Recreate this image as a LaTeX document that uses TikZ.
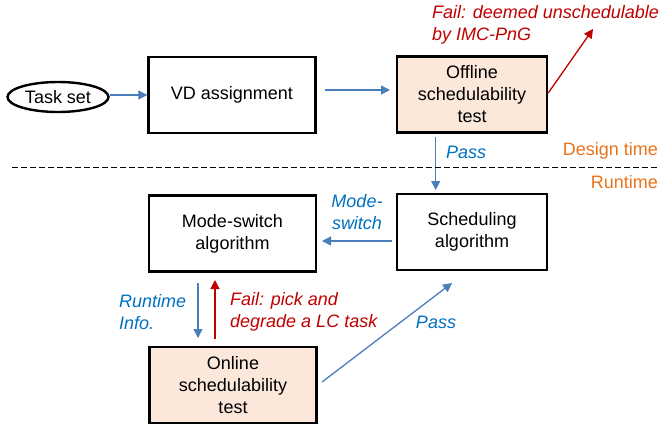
\documentclass[tikz,border=0pt]{standalone}
\usepackage{fontspec}
\setmainfont{Liberation Sans}
\usetikzlibrary{arrows.meta,shapes.geometric}
\definecolor{arrblue}{HTML}{4A7EBB}
\definecolor{txtblue}{HTML}{0070C0}
\definecolor{failred}{HTML}{C00000}
\definecolor{orng}{HTML}{E8731A}
\definecolor{peach}{HTML}{FCE8DA}
\tikzset{
  every node/.style={font=\fontsize{18}{22}\selectfont},
  box/.style={draw=black, line width=2.4pt, rectangle, minimum width=167pt, minimum height=76pt, align=center, inner sep=0pt},
  sbox/.style={box, minimum width=150pt},
  shaded/.style={fill=peach},
  blarrow/.style={draw=arrblue, line width=1.3pt, -{Triangle[length=9pt,width=9pt]}},
  rdarrow/.style={draw=failred, line width=1.3pt, -{Triangle[length=9pt,width=9pt]}},
  bluelbl/.style={text=txtblue, font=\fontsize{18}{22}\selectfont\itshape, inner sep=0pt},
  redlbl/.style={text=failred, font=\fontsize{18}{22}\selectfont\itshape, inner sep=0pt, align=left},
  orlbl/.style={text=orng, inner sep=0pt},
}
\begin{document}
\begin{tikzpicture}[x=1pt,y=-1pt]
\useasboundingbox (0,0) rectangle (660,429);
% nodes
\node[draw=black, line width=2.4pt, ellipse, minimum width=101pt, minimum height=30pt, inner sep=0pt] (task) at (58,97) {Task set};
\node[box] (vd) at (232,95) {VD assignment};
\node[sbox, shaded] (off) at (472,94.5) {Offline\\schedulability\\test};
\node[box] (ms) at (232.5,233.5) {Mode-switch\\algorithm};
\node[sbox] (sch) at (472,232) {Scheduling\\algorithm};
\node[box, shaded] (on) at (233,385) {Online\\schedulability\\test};
% free ends
\coordinate (vdout) at (325,90);
\coordinate (offin) at (390,90);
\coordinate (failend) at (593,29);
\coordinate (passtop) at (435.7,137);
\coordinate (passbot) at (435.7,190);
\coordinate (msA) at (392,241);
\coordinate (msB) at (322,241);
\coordinate (riA) at (198,283);
\coordinate (riB) at (198,338);
\coordinate (fA) at (215,339);
\coordinate (fB) at (215,280);
\coordinate (pA) at (322,382);
\coordinate (pB) at (452,283);
% connectors
\draw[blarrow] (task.east |- 0,95) -- (vd.west |- 0,95);
\draw[blarrow] (vdout) -- (offin);
\draw[rdarrow] (off.east |- 0,93) -- (failend);
\draw[blarrow] (passtop) -- (passbot);
\draw[blarrow] (msA) -- (msB);
\draw[blarrow] (riA) -- (riB);
\draw[rdarrow] (fA) -- (fB);
\draw[blarrow] (pA) -- (pB);
% divider
\draw[line width=0.9pt, dash pattern=on 5.5pt off 3.5pt] (12,167.7) coordinate (dl) -- (658,167.7) coordinate (dr);
% labels
\node[redlbl, anchor=west] (failtop) at (432,25) {Fail: deemed unschedulable\\by IMC-PnG};
\node[bluelbl] (pass1) at (466,152) {Pass};
\node[orlbl, anchor=east] (design) at (658,151) {Design time};
\node[orlbl, anchor=east] (runt) at (658,182) {Runtime};
\node[bluelbl, align=center] (modesw) at (357,212) {Mode-\\switch};
\node[bluelbl, align=left, anchor=west] (rinfo) at (119,312) {Runtime\\Info.};
\node[redlbl, anchor=west] (failbot) at (230,312) {Fail: pick and\\degrade a LC task};
\node[bluelbl] (pass2) at (436,322) {Pass};
\end{tikzpicture}
\end{document}
